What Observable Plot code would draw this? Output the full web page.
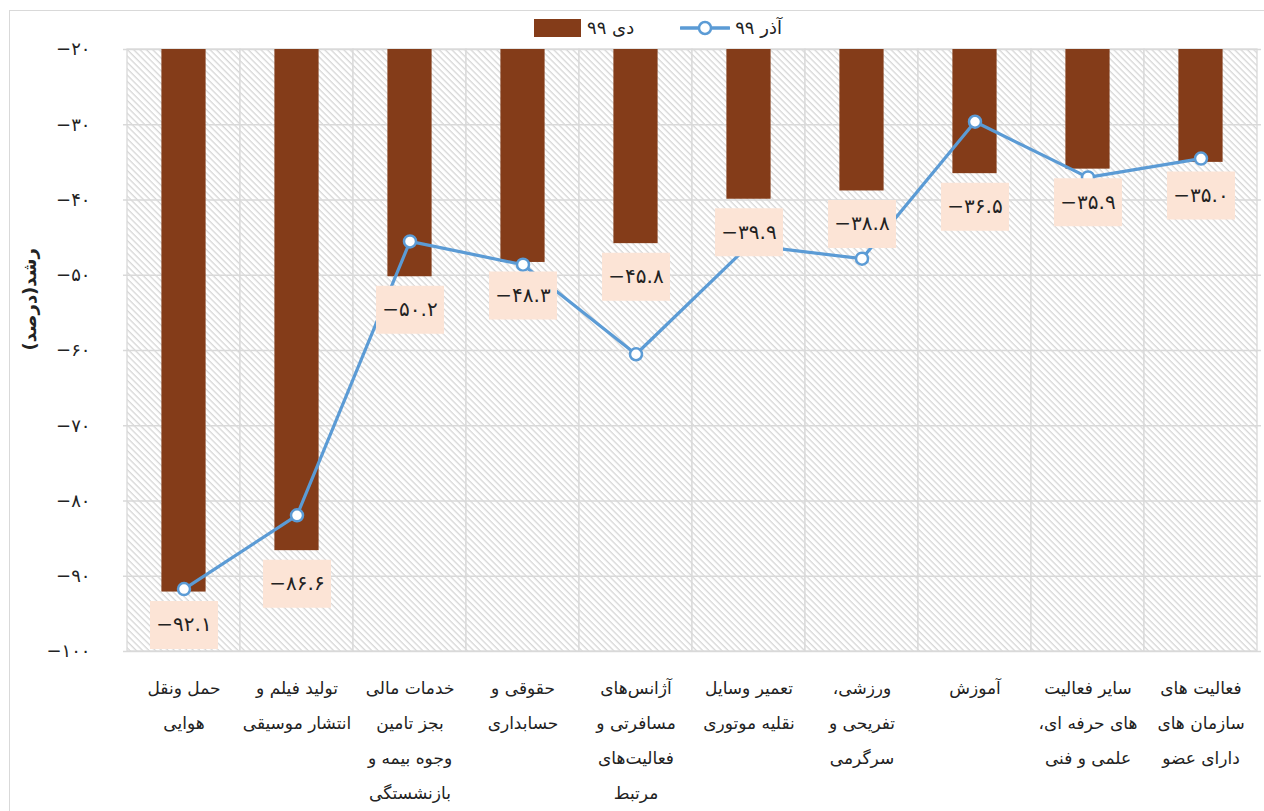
<!DOCTYPE html>
<html>
<head>
<meta charset="utf-8">
<script src="https://cdn.jsdelivr.net/npm/d3@7"></script>
<script src="https://cdn.jsdelivr.net/npm/@observablehq/plot@0.6"></script>
<style>
  body { margin: 0; background: white; }
  #chart { position: relative; width: 1264px; height: 811px; overflow: hidden; font-family: "DejaVu Sans", sans-serif; }
  #border { position: absolute; left: 9px; top: 10px; width: 1300px; height: 900px; border-top: 1.5px solid #d9d9d9; border-left: 1.5px solid #d9d9d9; pointer-events: none; }
  #legend { position: relative; height: 36px; }
  #legend .items { position: absolute; left: 534px; top: 17px; display: flex; align-items: center; direction: ltr; font-size: 18px; color: #222; }
  g[aria-label="x-axis tick label"] text, g[aria-label="y-title"] text { direction: rtl; unicode-bidi: embed; }
</style>
</head>
<body>
<div id="chart">
  <div id="border"></div>
  <div id="legend"><div class="items"></div></div>
</div>
<script>
const categories = [
  "حمل ونقل\nهوایی",
  "تولید فیلم و\nانتشار موسیقی",
  "خدمات مالی\nبجز تامین\nوجوه بیمه و\nبازنشستگی",
  "حقوقی و\nحسابداری",
  "آژانس‌های\nمسافرتی و\nفعالیت‌های\nمرتبط",
  "تعمیر وسایل\nنقلیه موتوری",
  "ورزشی،\nتفریحی و\nسرگرمی",
  "آموزش",
  "سایر فعالیت\nهای حرفه ای،\nعلمی و فنی",
  "فعالیت های\nسازمان های\nدارای عضو"
];
const dey99 = [-92.1, -86.6, -50.2, -48.3, -45.8, -39.9, -38.8, -36.5, -35.9, -35.0];
const azar99 = [-91.7, -81.9, -45.5, -48.6, -60.5, -46.0, -47.8, -29.6, -37.0, -34.5];
const seriesNames = ["دی ۹۹", "آذر ۹۹"];
const yTicks = [-100, -90, -80, -70, -60, -50, -40, -30, -20];
const yLabel = "رشد(درصد)";

const barColor = "#843C19";
const lineColor = "#5B9BD5";
const boxColor = "#FCE4D6";

const fa = s => String(s).replace(/\d/g, d => "۰۱۲۳۴۵۶۷۸۹"[d]);
const data = categories.map((c, i) => ({cat: c, dey: dey99[i], azar: azar99[i]}));

// legend
const items = d3.select("#legend .items");
items.append("div").style("width", "47px").style("height", "18px").style("background", barColor);
items.append("span").style("margin-left", "6px").text(seriesNames[0]);
const sw = items.append("svg").attr("width", 50).attr("height", 18).style("margin-left", "46px");
sw.append("line").attr("x1", 1).attr("x2", 49).attr("y1", 9).attr("y2", 9).attr("stroke", lineColor).attr("stroke-width", 3.5).attr("stroke-linecap", "round");
sw.append("circle").attr("cx", 25).attr("cy", 9).attr("r", 6).attr("fill", "white").attr("stroke", lineColor).attr("stroke-width", 2.5);
items.append("span").style("margin-left", "5px").text(seriesNames[1]);

const hatchDefs = () => {
  const defs = d3.create("svg:defs");
  const p = defs.append("pattern").attr("id", "hatch").attr("width", 4.5).attr("height", 4.5)
    .attr("patternUnits", "userSpaceOnUse").attr("patternTransform", "rotate(45)");
  p.append("rect").attr("width", 4.5).attr("height", 4.5).attr("fill", "white");
  p.append("rect").attr("width", 4.5).attr("height", 1.3).attr("fill", "#d6d6d6");
  return defs.node();
};

const boxSymbol = { draw(ctx) { ctx.rect(-34, -24, 68, 48); } };

const chart = Plot.plot({
  width: 1264,
  height: 775,
  marginTop: 13,
  marginBottom: 160,
  marginLeft: 123,
  marginRight: 3,
  style: { background: "transparent", fontFamily: "'DejaVu Sans', sans-serif", color: "#222" },
  x: { type: "band", domain: categories, padding: 0, label: null },
  y: { domain: [-100, -20], label: null },
  marks: [
    hatchDefs,
    Plot.cell(categories, { x: d => d, fill: "url(#hatch)", stroke: "#d9d9d9", strokeWidth: 1.3 }),
    Plot.gridY(yTicks, { stroke: "#d9d9d9", strokeOpacity: 1, strokeWidth: 1.5 }),
    Plot.axisY(yTicks, { tickSize: 0, tickPadding: 33, fontSize: 18, tickFormat: d => "−" + fa(Math.abs(d)), label: null }),
    Plot.axisX({ tickSize: 0, tickPadding: 18, fontSize: 17, lineHeight: 2.05, label: null }),
    Plot.text([yLabel], { frameAnchor: "left", dx: -93, rotate: -90, fontSize: 18, fontWeight: "bold", ariaLabel: "y-title" }),
    Plot.barY(data, { x: "cat", y1: -20, y2: "dey", fill: barColor, insetLeft: 34.4, insetRight: 34.4 }),
    Plot.line(data, { x: "cat", y: "azar", stroke: lineColor, strokeWidth: 3.2 }),
    Plot.dot(data, { x: "cat", y: "azar", r: 6, fill: "white", stroke: lineColor, strokeWidth: 2.5 }),
    Plot.dot(data, { x: "cat", y: "dey", dy: 33, symbol: boxSymbol, fill: boxColor }),
    Plot.text(data, { x: "cat", y: "dey", dy: 33, text: d => "−" + fa(Math.abs(d.dey).toFixed(1)), fontSize: 20, fill: "#222" })
  ]
});
document.getElementById("chart").appendChild(chart);
</script>
</body>
</html>
